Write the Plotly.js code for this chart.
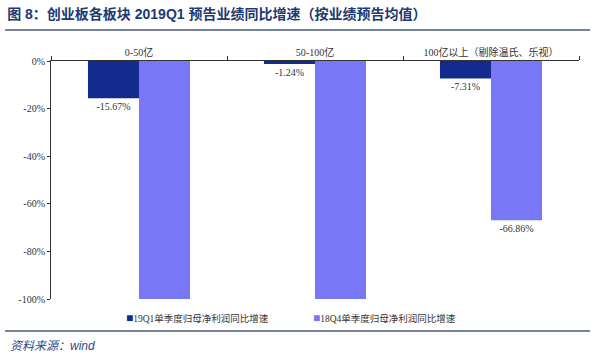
<!DOCTYPE html>
<html><head><meta charset="utf-8">
<script src="https://cdn.plot.ly/plotly-2.35.2.min.js"></script>
<style>html,body{margin:0;padding:0;background:#fff}#chart{width:600px;height:359px}</style>
</head><body><div id="chart"></div>
<script>
const categories = ['0-50亿', '50-100亿', '100亿以上（剔除温氏、乐视）'];
const seriesNames = ['19Q1单季度归母净利润同比增速', '18Q4单季度归母净利润同比增速'];
const series19Q1 = [-15.67, -1.24, -7.31];
const series18Q4 = [-100, -100, -66.86];
const labels19Q1 = ['-15.67%', '-1.24%', '-7.31%'];
const labels18Q4 = ['', '', '-66.86%'];
const yTickVals = [0, -20, -40, -60, -80, -100];
const yTickText = ['0%', '-20%', '-40%', '-60%', '-80%', '-100%'];
const colors = ['#132b8e', '#7878f6'];

const serif = 'Liberation Serif, Noto Sans CJK SC, serif';
const traces = [
  {type:'bar', name:seriesNames[0], x:categories, y:series19Q1, showlegend:false,
   marker:{color:colors[0]}, text:labels19Q1, textposition:'outside', cliponaxis:false,
   textfont:{family:serif, size:10, color:'#333'}},
  {type:'bar', name:seriesNames[1], x:categories, y:series18Q4, showlegend:false,
   marker:{color:colors[1]}, text:labels18Q4, textposition:'outside', cliponaxis:false,
   textfont:{family:serif, size:10, color:'#333'}}
];
const legendX = [124, 311];
const legendAnn = seriesNames.map((n, i) => ({
  text:'<span style="color:' + colors[i] + ';font-size:12px">■</span>' + n,
  xref:'paper', yref:'paper', x:(legendX[i] - 51) / 528, y:(299 - 318) / 238,
  xanchor:'left', yanchor:'middle', showarrow:false,
  font:{family:serif, size:9.5, color:'#333'}
}));
const layout = {
  width:600, height:359,
  margin:{l:51, r:21, t:61, b:60},
  paper_bgcolor:'#fff', plot_bgcolor:'#fff',
  barmode:'group', bargap:0.42, bargroupgap:0,
  showlegend:false,
  title:{text:'<b>图 8：创业板各板块 2019Q1 预告业绩同比增速（按业绩预告均值）</b>',
    x:0.012, xanchor:'left', xref:'container', y:0.962, yref:'container', yanchor:'middle',
    font:{family:'Arial, Liberation Sans, Noto Sans CJK SC, sans-serif', size:14, color:'#1d3a72'}},
  xaxis:{side:'top', type:'category', showline:true, linecolor:'#333', linewidth:1,
    ticks:'outside', tickson:'boundaries', ticklen:4, tickcolor:'#333',
    tickfont:{family:serif, size:10, color:'#333'}, showgrid:false, zeroline:false, fixedrange:true},
  yaxis:{range:[-100, 0], tickvals:yTickVals, ticktext:yTickText, showline:true, linecolor:'#333',
    linewidth:1, ticks:'outside', ticklen:3, tickcolor:'#333', showgrid:false, zeroline:false,
    tickfont:{family:serif, size:10, color:'#333'}},
  shapes:[
    {type:'line', xref:'paper', yref:'paper', x0:-0.087, x1:1.021, y0:1.13, y1:1.13,
     line:{color:'#4a5a78', width:1.5}},
    {type:'line', xref:'paper', yref:'paper', x0:-0.087, x1:1.021, y0:(299-331)/238, y1:(299-331)/238,
     line:{color:'#4a5a78', width:1.5}}
  ],
  annotations:legendAnn.concat([
    {text:'<i>资料来源：</i><span style="font-family:Liberation Sans"><i>wind</i></span>', xref:'paper', yref:'paper',
     x:(8 - 51) / 528, y:(299 - 344) / 238, xanchor:'left', yanchor:'middle', showarrow:false,
     font:{family:'Noto Sans CJK SC, sans-serif', size:12, color:'#2e4a80'}}
  ])
};
Plotly.newPlot('chart', traces, layout, {displayModeBar:false, staticPlot:true});
</script></body></html>
